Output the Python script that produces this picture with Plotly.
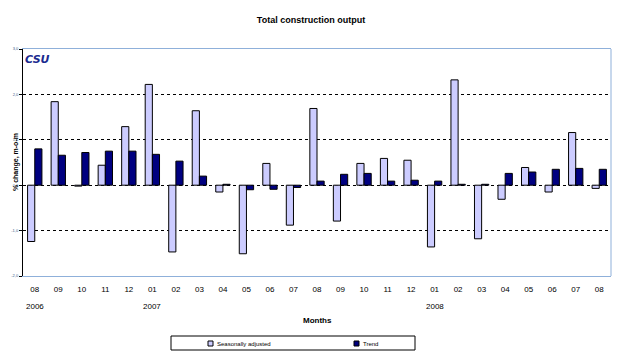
import plotly.graph_objects as go

# Data (% change, m-o-m)
months = ["08", "09", "10", "11", "12", "01", "02", "03", "04", "05", "06", "07", "08",
          "09", "10", "11", "12", "01", "02", "03", "04", "05", "06", "07", "08"]
years = ["2006", "", "", "", "", "2007", "", "", "", "", "", "", "",
         "", "", "", "", "2008", "", "", "", "", "", "", ""]
seas_adj = [-1.24, 1.84, -0.02, 0.44, 1.29, 2.22, -1.47, 1.64, -0.15, -1.51, 0.48, -0.88, 1.69,
            -0.79, 0.48, 0.59, 0.55, -1.36, 2.32, -1.18, -0.31, 0.39, -0.15, 1.16, -0.07]
trend = [0.80, 0.66, 0.72, 0.75, 0.75, 0.68, 0.53, 0.20, 0.02, -0.10, -0.09, -0.05, 0.09,
         0.24, 0.26, 0.09, 0.11, 0.09, 0.02, 0.02, 0.26, 0.29, 0.35, 0.37, 0.35]
y_ticks = [-2, -1, 0, 1, 2, 3]
y_labels = ["-2,0", "-1,0", "0,0", "1,0", "2,0", "3,0"]
series_names = ["Seasonally adjusted", "Trend"]
series_colors = ["#ccccff", "#000080"]

# unique category keys so repeated month labels stay separate
cats = list(range(len(months)))

FONT = "Liberation Sans, Arial, sans-serif"

# the page body adds an 8px margin, so the figure is drawn 8px smaller
OFF = 8
W, H = 626 - OFF, 357 - OFF
# plot area in page pixels (from the reference)
L, R, T, B = 23, 611, 49, 276

def px_x(p):
    return (p - L) / (R - L)

def px_y(p):
    return (B - p) / (B - T)

fig = go.Figure()
for vals, name, col in zip([seas_adj, trend], series_names, series_colors):
    fig.add_trace(go.Bar(x=cats, y=vals, name=name,
                         marker=dict(color=col, line=dict(color="black", width=1))))

# year labels under the month ticks
for c, yr in zip(cats, years):
    if yr:
        fig.add_annotation(x=c, y=0, xref="x", yref="paper", yanchor="middle", yshift=-30,
                           text=yr, showarrow=False,
                           font=dict(size=8, color="black", family=FONT))

# CSU logo text
fig.add_annotation(x=px_x(23), y=px_y(51), xref="paper", yref="paper", xanchor="left", yanchor="top",
                   text="<b><i>CSU</i></b>", showarrow=False,
                   font=dict(size=11, color="#1a2a8f", family="DejaVu Sans, sans-serif"))

# Months axis title
fig.add_annotation(x=0.5, y=0, xref="paper", yref="paper", yshift=-44, yanchor="middle",
                   text="<b>Months</b>", showarrow=False,
                   font=dict(size=8, color="black", family=FONT))

# y axis title
fig.add_annotation(x=px_x(10), y=px_y(162), xref="paper", yref="paper", textangle=-90,
                   text="<b>% change, m-o-m</b>", showarrow=False,
                   font=dict(size=7, color="black", family=FONT))

# right border of plot area
fig.add_shape(type="line", xref="paper", yref="paper", x0=1, x1=1, y0=0, y1=1,
              line=dict(color="#8fb0da", width=1))

# legend box drawn by hand (plotly's legend rows are too tall for this look)
fig.add_shape(type="rect", xref="paper", yref="paper", x0=px_x(171), x1=px_x(415),
              y0=px_y(350), y1=px_y(336), line=dict(color="black", width=1))
for sx, name, col in zip([208, 354], series_names, series_colors):
    fig.add_shape(type="rect", xref="paper", yref="paper", x0=px_x(sx), x1=px_x(sx + 5),
                  y0=px_y(346), y1=px_y(341), fillcolor=col, line=dict(color="black", width=1))
    fig.add_annotation(x=px_x(sx + 7), y=px_y(343.5), xref="paper", yref="paper",
                       xanchor="left", yanchor="middle", text=name, showarrow=False,
                       font=dict(size=6, color="black", family=FONT))

fig.update_layout(
    width=W, height=H,
    margin=dict(l=L - OFF, r=626 - R, t=T - OFF, b=357 - B, autoexpand=False),
    paper_bgcolor="white", plot_bgcolor="white",
    title=dict(text="<b>Total construction output</b>", x=(311 - OFF) / W, xanchor="center",
               y=1 - (20 - OFF) / H, yanchor="middle",
               font=dict(size=9, color="black", family=FONT)),
    barmode="group", bargap=0.39, bargroupgap=0,
    showlegend=False,
)

fig.update_xaxes(type="category", tickmode="array", tickvals=cats, ticktext=months,
                 tickfont=dict(size=8, color="black", family=FONT),
                 showline=True, linecolor="#8fb0da", mirror=True, showgrid=False,
                 ticks="outside", ticklen=5, tickcolor="rgba(0,0,0,0)",
                 automargin=False, range=[-0.5, len(cats) - 0.5])
fig.update_yaxes(range=[-2, 3], tickmode="array", tickvals=y_ticks, ticktext=y_labels,
                 tickfont=dict(size=4, color="#3a5a8a", family=FONT),
                 showline=True, linecolor="black", ticks="outside", ticklen=3, tickcolor="black",
                 showgrid=True, gridcolor="black", griddash="3px,3px", gridwidth=1,
                 zeroline=False, automargin=False)

fig.write_html("out.html")
